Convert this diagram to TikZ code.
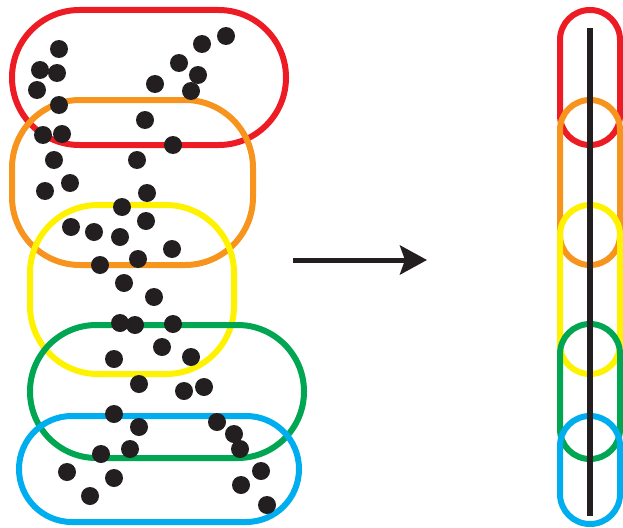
\documentclass[tikz,border=0pt]{standalone}
\usetikzlibrary{arrows.meta}
\definecolor{cred}{HTML}{ED1C24}
\definecolor{corange}{HTML}{F7941D}
\definecolor{cyellow}{HTML}{FFF200}
\definecolor{cgreen}{HTML}{00A651}
\definecolor{cblue}{HTML}{00AEEF}
\definecolor{cdot}{HTML}{231F20}
\tikzset{
  ring/.style={line width=6pt},
  dotmark/.style={fill=cdot},
  bar/.style={draw=cdot,line width=6pt},
  bigarrow/.style={draw=cdot,line width=5pt,-{Stealth[length=27pt,width=29pt,inset=5pt]}}
}
\begin{document}
\begin{tikzpicture}[x=1pt,y=-1pt]
\useasboundingbox (0,0) rectangle (623,527);
% left groups
\draw[ring,cred,rounded corners=67.4pt] (12,10) rectangle (286,145);
\draw[ring,corange,rounded corners=68pt] (12,100) rectangle (253,265);
\draw[ring,cyellow,rounded corners=68pt] (30,205) rectangle (234,374);
\draw[ring,cgreen,rounded corners=66.4pt] (30,325) rectangle (304,458);
\draw[ring,cblue,rounded corners=52.9pt] (19,416) rectangle (299,522);
% dots
\foreach \p in {(59,49),(40,70),(57,73),(37,90),(59,105),(43,135),(62,134),(54,160),(70,183),
  (226,36),(202,44),(179,63),(198,75),(191,91),(155,84),(145,120),(173,145),(137,160),
  (45,191),(147,193),(122,207),(146,221),(71,227),(94,232),(120,237),(172,249),(100,265),(138,259),
  (124,283),(154,297),(120,323),(135,325),(173,324),(162,347),
  (114,359),(191,357),(139,384),(184,391),(204,387),(114,414),(139,427),(217,422),(234,434),(240,449),
  (130,449),(101,454),(67,472),(114,478),(90,496),(261,471),(241,485),(267,505)}
  \fill[dotmark] \p circle[radius=9pt];
% arrow
\coordinate (arrS) at (293,260);
\coordinate (arrE) at (427,260);
\draw[bigarrow] (arrS) -- (arrE);
% right chain
\draw[ring,cred,rounded corners=29.9pt] (560,10) rectangle (620,145);
\draw[ring,corange,rounded corners=29.9pt] (560,100) rectangle (620,265);
\draw[ring,cyellow,rounded corners=29.9pt] (560,205) rectangle (620,374);
\draw[ring,cgreen,rounded corners=29.9pt] (560,324) rectangle (620,459);
\draw[ring,cblue,rounded corners=29.9pt] (560,416) rectangle (620,524);
\coordinate (barT) at (590,28);
\coordinate (barB) at (590,516);
\draw[bar] (barT) -- (barB);
\end{tikzpicture}
\end{document}
